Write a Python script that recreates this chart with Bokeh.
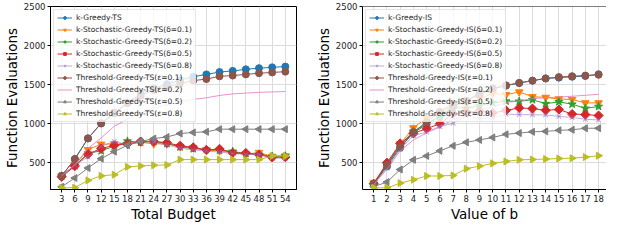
from bokeh.plotting import figure
from bokeh.layouts import row
from bokeh.models import FixedTicker, Span
from bokeh.embed import file_html
from bokeh.resources import INLINE

# ---------------- data ----------------
budgets = [3, 6, 9, 12, 15, 18, 21, 24, 27, 30, 33, 36, 39, 42, 45, 48, 51, 54]
b_values = list(range(1, 19))
y_ticks = [500, 1000, 1500, 2000, 2500]

k_greedy_ts = [330, 545, 810, 1000, 1130, 1265, 1380, 1450, 1505, 1555, 1600, 1630, 1660, 1675, 1695, 1710, 1720, 1730]
stoch_ts_01 = [330, 470, 665, 735, 740, 735, 760, 740, 740, 708, 690, 660, 650, 625, 605, 630, 578, 585]
stoch_ts_02 = [325, 460, 620, 650, 710, 775, 760, 770, 745, 700, 678, 668, 660, 643, 615, 605, 578, 585]
stoch_ts_05 = [318, 455, 608, 680, 720, 740, 770, 770, 755, 715, 695, 662, 675, 623, 623, 600, 566, 570]
stoch_ts_08 = [325, 470, 570, 708, 770, 730, 778, 760, 725, 685, 662, 648, 635, 616, 604, 604, 566, 548]
thr_ts_01 = [330, 545, 810, 1005, 1140, 1265, 1355, 1430, 1470, 1515, 1550, 1570, 1605, 1615, 1630, 1645, 1655, 1665]
thr_ts_02 = [330, 470, 680, 816, 966, 1055, 1140, 1200, 1240, 1280, 1310, 1330, 1360, 1380, 1390, 1400, 1405, 1410]
thr_ts_05 = [190, 302, 430, 550, 640, 722, 770, 808, 828, 872, 886, 894, 928, 928, 928, 928, 928, 928]
thr_ts_08 = [176, 179, 272, 330, 345, 445, 457, 465, 469, 538, 538, 538, 538, 538, 538, 538, 585, 585]

k_greedy_is = [230, 450, 690, 880, 990, 1100, 1220, 1290, 1390, 1450, 1485, 1520, 1550, 1578, 1588, 1600, 1610, 1632]
stoch_is_01 = [245, 480, 740, 945, 1075, 1150, 1265, 1245, 1320, 1385, 1370, 1405, 1345, 1335, 1315, 1308, 1265, 1265]
stoch_is_02 = [230, 470, 730, 900, 1000, 1090, 1205, 1195, 1232, 1265, 1288, 1285, 1305, 1255, 1278, 1248, 1195, 1218]
stoch_is_05 = [228, 498, 745, 875, 935, 998, 1126, 1148, 1157, 1135, 1168, 1200, 1192, 1170, 1180, 1122, 1115, 1103]
stoch_is_08 = [218, 430, 670, 845, 890, 962, 1005, 1100, 1065, 1072, 1122, 1115, 1113, 1110, 1092, 1078, 1055, 1046]
thr_is_01 = [230, 470, 705, 890, 1020, 1150, 1230, 1295, 1370, 1450, 1490, 1520, 1550, 1578, 1595, 1607, 1615, 1625]
thr_is_02 = [220, 415, 650, 790, 880, 960, 1050, 1110, 1170, 1215, 1270, 1290, 1320, 1330, 1340, 1350, 1362, 1375]
thr_is_05 = [191, 250, 411, 535, 585, 650, 715, 760, 790, 822, 862, 878, 894, 900, 913, 920, 940, 940]
thr_is_08 = [176, 176, 237, 280, 328, 328, 336, 422, 455, 490, 515, 535, 540, 545, 552, 556, 570, 588]

ts_labels = ["k-Greedy-TS",
             "k-Stochastic-Greedy-TS(δ=0.1)", "k-Stochastic-Greedy-TS(δ=0.2)",
             "k-Stochastic-Greedy-TS(δ=0.5)", "k-Stochastic-Greedy-TS(δ=0.8)",
             "Threshold-Greedy-TS(ε=0.1)", "Threshold-Greedy-TS(ε=0.2)",
             "Threshold-Greedy-TS(ε=0.5)", "Threshold-Greedy-TS(ε=0.8)"]
is_labels = [s.replace("TS", "IS") for s in ts_labels]

# ---------------- styles ----------------
colors = ["#1f77b4", "#ff7f0e", "#2ca02c", "#d62728", "#9467bd",
          "#8c564b", "#e377c2", "#7f7f7f", "#bcbd22"]
markers = ["circle", "inverted_triangle", "star", "square", "x",
           "circle", None, "triangle", "triangle"]
angles = [0, 0, 0, 0.785398, 0, 0, 0, 1.5708, -1.5708]
sizes = [7, 7.5, 8.5, 6.5, 6.5, 7, 0, 7, 7]
alphas = [1, 1, 1, 1, 0.55, 1, 0.8, 1, 1]

FONT = "DejaVu Sans"


def make_fig(xs, series, labels, x_range, xticks, xlabel, width, bl, br, outline):
    p = figure(width=width, height=224, x_range=x_range, y_range=(155, 2500),
               output_backend="svg", toolbar_location=None,
               min_border_left=bl, min_border_right=br,
               min_border_top=6, min_border_bottom=32)
    p.xaxis.ticker = FixedTicker(ticks=xticks)
    p.yaxis.ticker = FixedTicker(ticks=y_ticks)
    p.xaxis.axis_label = xlabel
    p.yaxis.axis_label = "Function Evaluations"
    for ax in (p.xaxis[0], p.yaxis[0]):
        ax.axis_label_text_font = FONT
        ax.axis_label_text_font_style = "normal"
        ax.axis_label_text_font_size = "13.5px"
        ax.axis_label_text_color = "black"
        ax.axis_label_standoff = 1
        ax.major_label_text_font = FONT
        ax.major_label_text_font_size = "8.5px"
        ax.major_label_text_color = "#222222"
        ax.major_label_standoff = 2
        ax.minor_tick_line_color = None
        ax.major_tick_out = 3
        ax.major_tick_in = 0
        ax.axis_line_color = "black"
        ax.major_tick_line_color = "black"
    p.grid.grid_line_color = "#dcdcdc"
    p.grid.grid_line_width = 1
    if outline:
        p.outline_line_color = "black"
    else:
        p.outline_line_color = None
        p.add_layout(Span(location=2500, dimension="width",
                          line_color="black", line_width=1))

    for i, ys in enumerate(series):
        p.line(xs, ys, color=colors[i], line_width=1, line_alpha=alphas[i],
               legend_label=labels[i])
        if markers[i] is not None:
            p.scatter(xs, ys, marker=markers[i], size=sizes[i], angle=angles[i],
                      fill_color=colors[i], line_color=colors[i],
                      fill_alpha=alphas[i], line_alpha=alphas[i],
                      line_width=1.2 if markers[i] == "x" else 1,
                      legend_label=labels[i])

    lg = p.legend[0]
    lg.location = "top_left"
    lg.label_text_font = FONT
    lg.label_text_font_size = "7.5px"
    lg.label_text_color = "#222222"
    lg.glyph_width = 15
    lg.glyph_height = 7
    lg.label_height = 7
    lg.label_standoff = 4
    lg.spacing = 3
    lg.padding = 3
    lg.margin = 3
    lg.border_line_color = "#cccccc"
    lg.background_fill_alpha = 0.8
    return p


p1 = make_fig(budgets,
              [k_greedy_ts, stoch_ts_01, stoch_ts_02, stoch_ts_05, stoch_ts_08,
               thr_ts_01, thr_ts_02, thr_ts_05, thr_ts_08],
              ts_labels, (0.45, 56.55), budgets, "Total Budget",
              302, 44, 6, True)
p2 = make_fig(b_values,
              [k_greedy_is, stoch_is_01, stoch_is_02, stoch_is_05, stoch_is_08,
               thr_is_01, thr_is_02, thr_is_05, thr_is_08],
              is_labels, (0.15, 18.6), b_values, "Value of b",
              304, 60, 0, False)

layout = row(p1, p2)
open("out.html", "w").write(file_html(layout, INLINE))
